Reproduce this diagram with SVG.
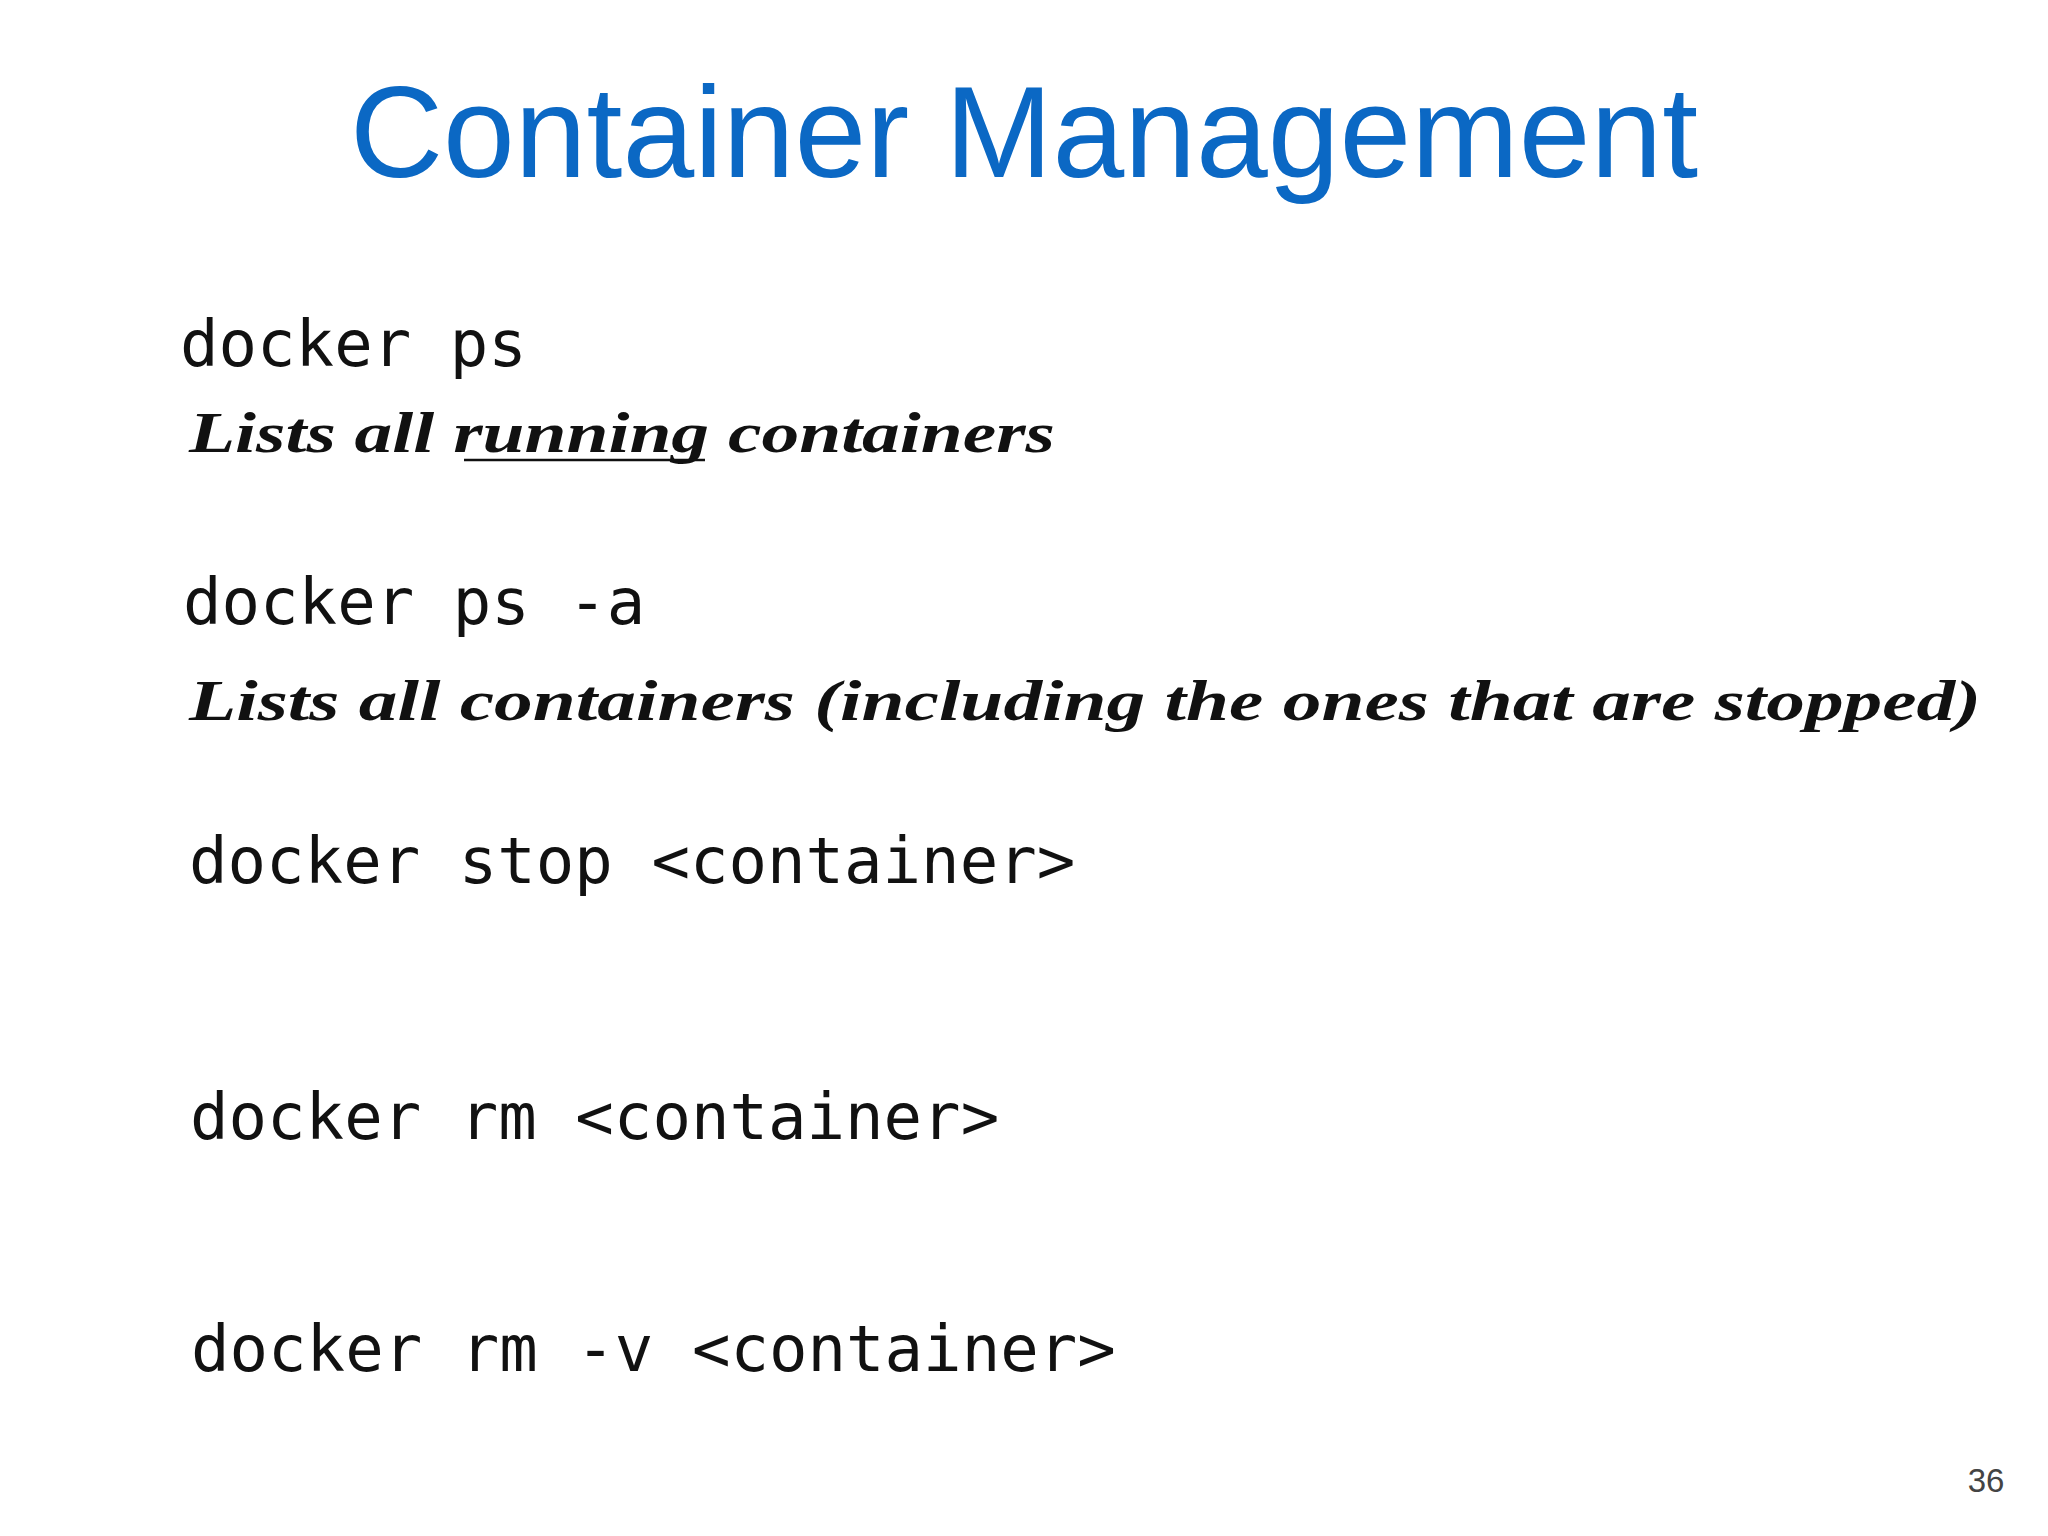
<svg xmlns="http://www.w3.org/2000/svg" width="2048" height="1536" viewBox="0 0 2048 1536">
<style>
.cmd{font-family:"DejaVu Sans Mono",monospace;font-size:64px;fill:#111}
.hand{font-family:"Liberation Serif",serif;font-style:italic;font-weight:bold;font-size:56px;fill:#111}
</style>
<rect width="2048" height="1536" fill="#fff"/>
<text x="1024" y="177" text-anchor="middle" font-family="Liberation Sans,Arial,sans-serif" font-size="129" fill="#0b68c4">Container Management</text>
<g id="ps"><text class="cmd" x="180" y="366">docker ps</text></g>
<g id="ps-desc"><text class="hand" x="189" y="452" textLength="866" lengthAdjust="spacingAndGlyphs">Lists all running containers</text>
<line x1="464" y1="460" x2="705" y2="460" stroke="#111" stroke-width="2.5"/></g>
<g id="psa"><text class="cmd" x="183" y="624">docker ps -a</text></g>
<g id="psa-desc"><text class="hand" x="189" y="720" textLength="1792" lengthAdjust="spacingAndGlyphs">Lists all containers (including the ones that are stopped)</text></g>
<g id="stop"><text class="cmd" x="189" y="883">docker stop &lt;container&gt;</text></g>
<g id="rm"><text class="cmd" x="190" y="1139">docker rm &lt;container&gt;</text></g>
<g id="rmv"><text class="cmd" x="191" y="1371">docker rm -v &lt;container&gt;</text></g>
<text x="1986" y="1492" text-anchor="middle" font-family="Liberation Sans,Arial,sans-serif" font-size="33" fill="#444">36</text>
</svg>
